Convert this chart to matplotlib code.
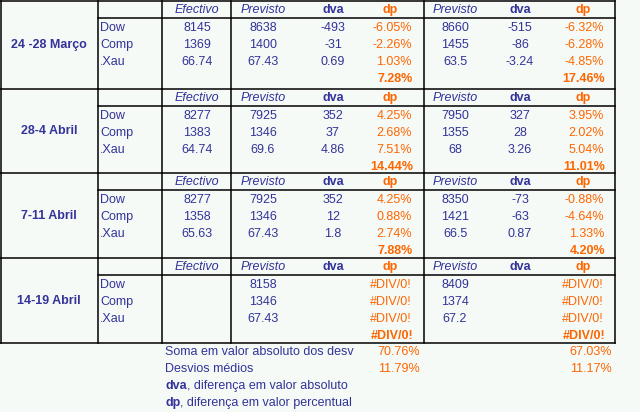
import matplotlib.pyplot as plt

plt.rcParams['font.family'] = ['Liberation Sans', 'DejaVu Sans']

BLUE = '#333399'
ORANGE = '#FF6600'
BG = '#F5FAF7'

# Dados
periodos = ['24 -28 Março', '28-4 Abril', '7-11 Abril', '14-19 Abril']
ativos = ['Dow', 'Comp', '.Xau']
efectivo = [['8145', '1369', '66.74'], ['8277', '1383', '64.74'],
            ['8277', '1358', '65.63'], ['', '', '']]
previsto1 = [['8638', '1400', '67.43'], ['7925', '1346', '69.6'],
             ['7925', '1346', '67.43'], ['8158', '1346', '67.43']]
dva1 = [['-493', '-31', '0.69'], ['352', '37', '4.86'],
        ['352', '12', '1.8'], ['', '', '']]
dp1 = [['-6.05%', '-2.26%', '1.03%'], ['4.25%', '2.68%', '7.51%'],
       ['4.25%', '0.88%', '2.74%'], ['#DIV/0!', '#DIV/0!', '#DIV/0!']]
tot1 = ['7.28%', '14.44%', '7.88%', '#DIV/0!']
previsto2 = [['8660', '1455', '63.5'], ['7950', '1355', '68'],
             ['8350', '1421', '66.5'], ['8409', '1374', '67.2']]
dva2 = [['-515', '-86', '-3.24'], ['327', '28', '3.26'],
        ['-73', '-63', '0.87'], ['', '', '']]
dp2 = [['-6.32%', '-6.28%', '-4.85%'], ['3.95%', '2.02%', '5.04%'],
       ['-0.88%', '-4.64%', '1.33%'], ['#DIV/0!', '#DIV/0!', '#DIV/0!']]
tot2 = ['17.46%', '11.01%', '4.20%', '#DIV/0!']
soma = ['70.76%', '67.03%']
medios = ['11.79%', '11.17%']

fig = plt.figure(figsize=(6.4, 4.12), dpi=100, facecolor=BG)
ax = fig.add_axes([0, 0, 1, 1])
ax.set_xlim(0, 640)
ax.set_ylim(412, 0)
ax.axis('off')
ax.set_facecolor(BG)

fs = 9
tops = [0, 88, 172, 257]
bottom = 342
lw = 1.1

for i, top in enumerate(tops):
    end = tops[i + 1] if i + 1 < len(tops) else bottom
    ax.plot([0, 615], [top + 1, top + 1], color='black', lw=lw)
    ax.plot([98, 615], [top + 18, top + 18], color='black', lw=lw)
    for x in [98, 162, 231, 424]:
        ax.plot([x, x], [top + 1, end + 1], color='black', lw=lw)
    ax.text(49, (top + end) / 2 + 1, periodos[i], color=BLUE, fontsize=fs,
            fontweight='bold', ha='center', va='center')
    hy = top + 10
    ax.text(197, hy, 'Efectivo', color=BLUE, fontsize=fs, style='italic', ha='center', va='center')
    for xp, xd, xq in [(263, 333, 390), (455, 520, 583)]:
        ax.text(xp, hy, 'Previsto', color=BLUE, fontsize=fs, style='italic', ha='center', va='center')
        ax.text(xd, hy, 'dva', color=BLUE, fontsize=fs, fontweight='bold', ha='center', va='center')
        ax.text(xq, hy, 'dp', color=ORANGE, fontsize=fs, fontweight='bold', ha='center', va='center')
    for j, nome in enumerate(ativos):
        y = top + 28 + 17 * j
        ax.text(100, y, nome, color=BLUE, fontsize=fs, ha='left', va='center')
        ax.text(197, y, efectivo[i][j], color=BLUE, fontsize=fs, ha='center', va='center')
        ax.text(263, y, previsto1[i][j], color=BLUE, fontsize=fs, ha='center', va='center')
        ax.text(333, y, dva1[i][j], color=BLUE, fontsize=fs, ha='center', va='center')
        ax.text(412, y, dp1[i][j], color=ORANGE, fontsize=fs, ha='right', va='center')
        ax.text(455, y, previsto2[i][j], color=BLUE, fontsize=fs, ha='center', va='center')
        ax.text(520, y, dva2[i][j], color=BLUE, fontsize=fs, ha='center', va='center')
        ax.text(604, y, dp2[i][j], color=ORANGE, fontsize=fs, ha='right', va='center')
    y = top + 79
    ax.text(413, y, tot1[i], color=ORANGE, fontsize=fs, fontweight='bold', ha='right', va='center')
    ax.text(605, y, tot2[i], color=ORANGE, fontsize=fs, fontweight='bold', ha='right', va='center')

ax.plot([0, 615], [bottom + 1, bottom + 1], color='black', lw=lw)
ax.plot([615, 615], [1, bottom + 1], color='black', lw=lw)
ax.plot([0.6, 0.6], [1, bottom + 1], color='black', lw=lw)

ax.text(165, 352, 'Soma em valor absoluto dos desv', color=BLUE, fontsize=fs, va='center')
ax.text(420, 352, soma[0], color=ORANGE, fontsize=fs, ha='right', va='center')
ax.text(612, 352, soma[1], color=ORANGE, fontsize=fs, ha='right', va='center')
ax.text(165, 369, 'Desvios médios', color=BLUE, fontsize=fs, va='center')
ax.text(420, 369, medios[0], color=ORANGE, fontsize=fs, ha='right', va='center')
ax.text(612, 369, medios[1], color=ORANGE, fontsize=fs, ha='right', va='center')
t = ax.text(165, 386, 'dva', color=BLUE, fontsize=fs, fontweight='bold', va='center')
ax.annotate(', diferença em valor absoluto', xycoords=t, xy=(1, 0.5), va='center',
            color=BLUE, fontsize=fs)
t = ax.text(165, 403, 'dp', color=BLUE, fontsize=fs, fontweight='bold', va='center')
ax.annotate(', diferença em valor percentual', xycoords=t, xy=(1, 0.5), va='center',
            color=BLUE, fontsize=fs)

fig.savefig('out.png', dpi=100, facecolor=BG)
